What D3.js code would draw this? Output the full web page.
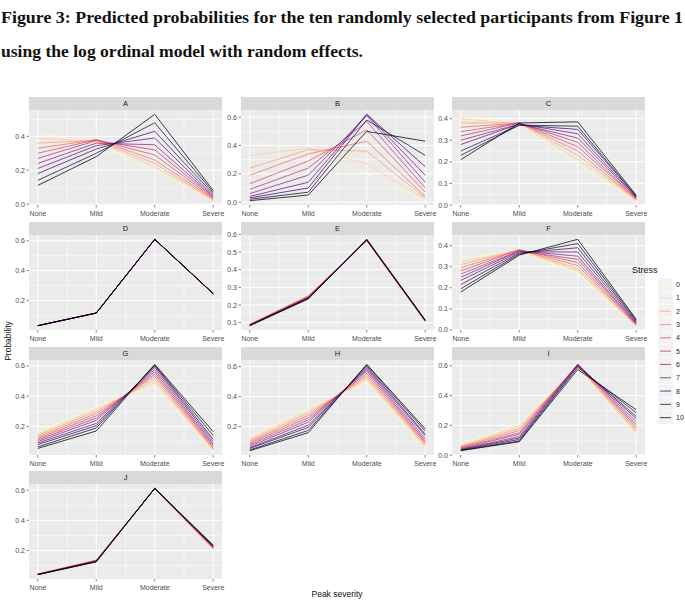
<!DOCTYPE html>
<html><head><meta charset="utf-8">
<script src="https://cdn.jsdelivr.net/npm/d3@7"></script>
<style>body{margin:0;background:#fff}</style>
</head><body>
<svg id="chart" width="685" height="602"></svg>
<script>
// ---------- DATA ----------
const categories = ["None", "Mild", "Moderate", "Severe"];
const stressLevels = [0, 1, 2, 3, 4, 5, 6, 7, 8, 9, 10];
const panelIds = ["A", "B", "C", "D", "E", "F", "G", "H", "I", "J"];
const titleLines = [
  "Figure 3: Predicted probabilities for the ten randomly selected participants from Figure 1",
  "using the log ordinal model with random effects."
];
// rows: stress 0..10 ; columns: None, Mild, Moderate, Severe
const probA = [
  [0.42, 0.36, 0.20, 0.02], [0.39, 0.37, 0.22, 0.02], [0.36, 0.375, 0.24, 0.025],
  [0.33, 0.38, 0.26, 0.03], [0.30, 0.38, 0.29, 0.035], [0.27, 0.375, 0.32, 0.04],
  [0.24, 0.36, 0.35, 0.045], [0.21, 0.345, 0.39, 0.05], [0.18, 0.325, 0.43, 0.06],
  [0.14, 0.30, 0.48, 0.07], [0.11, 0.28, 0.53, 0.08]
];
const probB = [
  [0.43, 0.36, 0.20, 0.01], [0.33, 0.38, 0.27, 0.02], [0.24, 0.37, 0.36, 0.03],
  [0.19, 0.34, 0.43, 0.04], [0.13, 0.29, 0.51, 0.07], [0.09, 0.24, 0.57, 0.10],
  [0.06, 0.19, 0.61, 0.14], [0.04, 0.14, 0.62, 0.19], [0.03, 0.10, 0.62, 0.25],
  [0.02, 0.07, 0.58, 0.33], [0.01, 0.05, 0.50, 0.43]
];
const probC = [
  [0.42, 0.37, 0.19, 0.02], [0.40, 0.375, 0.21, 0.02], [0.38, 0.38, 0.23, 0.025],
  [0.36, 0.38, 0.25, 0.025], [0.34, 0.38, 0.27, 0.03], [0.32, 0.38, 0.29, 0.03],
  [0.30, 0.375, 0.31, 0.035], [0.28, 0.375, 0.33, 0.035], [0.25, 0.37, 0.35, 0.04],
  [0.23, 0.37, 0.365, 0.04], [0.21, 0.38, 0.385, 0.045]
];
const probD = [
  [0.03, 0.115, 0.61, 0.245], [0.03, 0.115, 0.61, 0.245], [0.03, 0.115, 0.61, 0.245],
  [0.03, 0.115, 0.61, 0.245], [0.03, 0.115, 0.61, 0.245], [0.03, 0.115, 0.61, 0.245],
  [0.03, 0.115, 0.61, 0.245], [0.03, 0.115, 0.61, 0.245], [0.03, 0.115, 0.61, 0.245],
  [0.03, 0.115, 0.61, 0.245], [0.03, 0.115, 0.61, 0.245]
];
const probE = [
  [0.093, 0.256, 0.562, 0.105], [0.092, 0.254, 0.563, 0.106], [0.091, 0.251, 0.564, 0.107],
  [0.090, 0.249, 0.565, 0.108], [0.089, 0.247, 0.566, 0.109], [0.088, 0.245, 0.567, 0.110],
  [0.087, 0.243, 0.568, 0.111], [0.086, 0.241, 0.569, 0.112], [0.085, 0.239, 0.570, 0.113],
  [0.084, 0.237, 0.571, 0.114], [0.083, 0.234, 0.572, 0.115]
];
const probF = [
  [0.34, 0.37, 0.27, 0.02], [0.325, 0.375, 0.28, 0.02], [0.31, 0.38, 0.29, 0.02],
  [0.295, 0.38, 0.305, 0.025], [0.28, 0.38, 0.32, 0.025], [0.265, 0.375, 0.335, 0.03],
  [0.25, 0.375, 0.35, 0.03], [0.235, 0.37, 0.37, 0.035], [0.215, 0.365, 0.39, 0.04],
  [0.195, 0.36, 0.41, 0.045], [0.18, 0.355, 0.43, 0.05]
];
const probG = [
  [0.16, 0.33, 0.47, 0.04], [0.15, 0.315, 0.49, 0.045], [0.14, 0.30, 0.51, 0.05],
  [0.13, 0.285, 0.53, 0.055], [0.12, 0.27, 0.545, 0.065], [0.11, 0.255, 0.56, 0.075],
  [0.10, 0.24, 0.575, 0.085], [0.09, 0.22, 0.59, 0.10], [0.08, 0.205, 0.60, 0.115],
  [0.065, 0.19, 0.605, 0.14], [0.055, 0.17, 0.61, 0.165]
];
const probH = [
  [0.13, 0.32, 0.49, 0.06], [0.12, 0.305, 0.51, 0.065], [0.11, 0.29, 0.525, 0.075],
  [0.10, 0.275, 0.54, 0.085], [0.09, 0.26, 0.555, 0.095], [0.08, 0.245, 0.57, 0.105],
  [0.07, 0.23, 0.58, 0.12], [0.06, 0.21, 0.59, 0.14], [0.055, 0.195, 0.60, 0.15],
  [0.045, 0.175, 0.61, 0.17], [0.04, 0.16, 0.615, 0.185]
];
const probI = [
  [0.07, 0.21, 0.59, 0.13], [0.065, 0.195, 0.595, 0.145], [0.06, 0.18, 0.60, 0.16],
  [0.055, 0.165, 0.605, 0.175], [0.05, 0.15, 0.61, 0.19], [0.045, 0.14, 0.61, 0.205],
  [0.04, 0.125, 0.61, 0.225], [0.038, 0.115, 0.605, 0.245], [0.035, 0.105, 0.60, 0.26],
  [0.032, 0.095, 0.59, 0.285], [0.03, 0.09, 0.575, 0.305]
];
const probJ = [
  [0.045, 0.140, 0.609, 0.205], [0.045, 0.138, 0.609, 0.208], [0.044, 0.137, 0.610, 0.211],
  [0.044, 0.135, 0.610, 0.214], [0.043, 0.134, 0.610, 0.217], [0.043, 0.132, 0.611, 0.220],
  [0.042, 0.131, 0.611, 0.223], [0.042, 0.129, 0.611, 0.226], [0.041, 0.128, 0.612, 0.229],
  [0.041, 0.126, 0.612, 0.232], [0.040, 0.125, 0.612, 0.235]
];
const yTicksA = [0, 0.2, 0.4];
const yTicksB = [0, 0.2, 0.4, 0.6];
const yTicksC = [0, 0.1, 0.2, 0.3, 0.4];
const yTicksD = [0.2, 0.4, 0.6];
const yTicksE = [0.1, 0.2, 0.3, 0.4, 0.5, 0.6];
const yTicksF = [0, 0.1, 0.2, 0.3, 0.4];
const yTicksG = [0.2, 0.4, 0.6];
const yTicksH = [0.2, 0.4, 0.6];
const yTicksI = [0, 0.2, 0.4, 0.6];
const yTicksJ = [0.2, 0.4, 0.6];

const panelValues = [probA, probB, probC, probD, probE, probF, probG, probH, probI, probJ];
const panelTicks = [yTicksA, yTicksB, yTicksC, yTicksD, yTicksE, yTicksF, yTicksG, yTicksH, yTicksI, yTicksJ];

// ---------- LAYOUT ----------
const svg = d3.select("#chart");
const colLeft = [29, 241, 452];
const rowTop = [97, 222, 347, 471];
const panelW = 193, stripH = 13, panelH = 95;
const color = d3.scaleOrdinal().domain(stressLevels)
  .range(stressLevels.map(s => d3.interpolateMagma(1 - s / 10)));
const sansFont = "'Liberation Sans', Arial, sans-serif";

// Title
svg.append("text").attr("x", 1).attr("y", 23)
  .attr("font-family", "'Liberation Serif', 'Times New Roman', serif")
  .attr("font-weight", "bold").attr("font-size", 17.5)
  .attr("textLength", 682).attr("lengthAdjust", "spacingAndGlyphs")
  .attr("fill", "#111").text(titleLines[0]);
svg.append("text").attr("x", 1).attr("y", 57)
  .attr("font-family", "'Liberation Serif', 'Times New Roman', serif")
  .attr("font-weight", "bold").attr("font-size", 17.5)
  .attr("textLength", 362).attr("lengthAdjust", "spacingAndGlyphs")
  .attr("fill", "#111").text(titleLines[1]);

panelIds.forEach((id, i) => {
  const col = i % 3, row = Math.floor(i / 3);
  const x0 = colLeft[col], sTop = rowTop[row], y0 = sTop + stripH;
  const vals = panelValues[i];
  const ticks = panelTicks[i];
  const all = vals.flat();
  const mn = d3.min(all), mx = d3.max(all), pad = (mx - mn) * 0.05;
  const y = d3.scaleLinear().domain([mn - pad, mx + pad]).range([y0 + panelH, y0]);
  const x = d3.scaleLinear().domain([1 - 0.15, 4 + 0.15]).range([x0, x0 + panelW]);
  const g = svg.append("g");

  g.append("rect").attr("x", x0).attr("y", y0).attr("width", panelW).attr("height", panelH)
    .attr("fill", "#EBEBEB");

  // minor grid
  const step = ticks[1] - ticks[0];
  const ext = [ticks[0] - step, ...ticks, ticks[ticks.length - 1] + step];
  const minorY = d3.pairs(ext).map(([a, b]) => (a + b) / 2)
    .filter(v => v >= y.domain()[0] && v <= y.domain()[1]);
  const minorX = [0.5, 1.5, 2.5, 3.5, 4.5].filter(v => v >= x.domain()[0] && v <= x.domain()[1]);
  g.selectAll(".mny").data(minorY).join("line")
    .attr("x1", x0).attr("x2", x0 + panelW).attr("y1", d => y(d)).attr("y2", d => y(d))
    .attr("stroke", "#fff").attr("stroke-width", 0.5);
  g.selectAll(".mnx").data(minorX).join("line")
    .attr("y1", y0).attr("y2", y0 + panelH).attr("x1", d => x(d)).attr("x2", d => x(d))
    .attr("stroke", "#fff").attr("stroke-width", 0.5);
  // major grid
  g.selectAll(".mjy").data(ticks).join("line")
    .attr("x1", x0).attr("x2", x0 + panelW).attr("y1", d => y(d)).attr("y2", d => y(d))
    .attr("stroke", "#fff").attr("stroke-width", 1);
  g.selectAll(".mjx").data([1, 2, 3, 4]).join("line")
    .attr("y1", y0).attr("y2", y0 + panelH).attr("x1", d => x(d)).attr("x2", d => x(d))
    .attr("stroke", "#fff").attr("stroke-width", 1);

  // lines
  const line = d3.line().x((d, k) => x(k + 1)).y(d => y(d));
  g.selectAll(".ln").data(vals).join("path")
    .attr("d", d => line(d)).attr("fill", "none")
    .attr("stroke", (d, s) => color(stressLevels[s]))
    .attr("stroke-width", 0.9).attr("stroke-opacity", 0.85);

  // strip
  g.append("rect").attr("x", x0).attr("y", sTop).attr("width", panelW).attr("height", stripH)
    .attr("fill", "#D9D9D9");
  g.append("text").attr("x", x0 + panelW / 2).attr("y", sTop + stripH / 2 + 2.7)
    .attr("text-anchor", "middle").attr("font-family", sansFont).attr("font-size", 7.5)
    .attr("fill", "#1A1A1A").text(id);

  // y axis
  g.selectAll(".yt").data(ticks).join("line")
    .attr("x1", x0 - 2.5).attr("x2", x0).attr("y1", d => y(d)).attr("y2", d => y(d))
    .attr("stroke", "#333").attr("stroke-width", 0.6);
  g.selectAll(".yl").data(ticks).join("text")
    .attr("x", x0 - 4).attr("y", d => y(d) + 2.5).attr("text-anchor", "end")
    .attr("font-family", sansFont).attr("font-size", 7).attr("fill", "#4D4D4D")
    .text(d => d3.format(".1f")(d));
  // x axis
  g.selectAll(".xt").data(categories).join("line")
    .attr("x1", (d, k) => x(k + 1)).attr("x2", (d, k) => x(k + 1))
    .attr("y1", y0 + panelH).attr("y2", y0 + panelH + 2.5)
    .attr("stroke", "#333").attr("stroke-width", 0.6);
  g.selectAll(".xl").data(categories).join("text")
    .attr("x", (d, k) => x(k + 1)).attr("y", y0 + panelH + 10.5).attr("text-anchor", "middle")
    .attr("font-family", sansFont).attr("font-size", 7).attr("fill", "#4D4D4D")
    .text(d => d);
});

// axis titles
svg.append("text").attr("x", 337).attr("y", 597).attr("text-anchor", "middle")
  .attr("font-family", sansFont).attr("font-size", 8.5).attr("fill", "#111").text("Peak severity");
svg.append("text").attr("transform", "translate(11,341) rotate(-90)").attr("text-anchor", "middle")
  .attr("font-family", sansFont).attr("font-size", 8.5).attr("fill", "#111").text("Probability");

// legend
const lg = svg.append("g");
lg.append("text").attr("x", 632).attr("y", 273).attr("font-family", sansFont)
  .attr("font-size", 9).attr("fill", "#111").text("Stress");
const keyH = 13.3, keyTop = 278;
stressLevels.forEach((s, k) => {
  const ky = keyTop + k * keyH;
  lg.append("rect").attr("x", 658).attr("y", ky).attr("width", 15).attr("height", keyH)
    .attr("fill", "#F2F2F2").attr("stroke", "#fff").attr("stroke-width", 0.5);
  lg.append("line").attr("x1", 660).attr("x2", 671).attr("y1", ky + keyH / 2).attr("y2", ky + keyH / 2)
    .attr("stroke", color(s)).attr("stroke-width", 0.9).attr("stroke-opacity", 0.85);
  lg.append("text").attr("x", 676).attr("y", ky + keyH / 2 + 2.5).attr("font-family", sansFont)
    .attr("font-size", 7).attr("fill", "#222").text(s);
});
</script>
</body></html>
